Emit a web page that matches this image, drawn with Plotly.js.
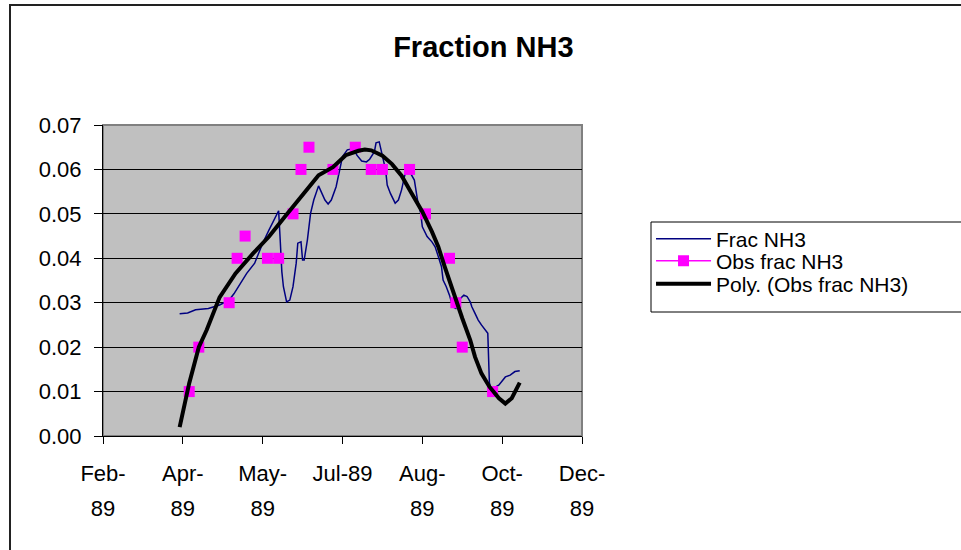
<!DOCTYPE html>
<html>
<head>
<meta charset="utf-8">
<script src="https://cdn.plot.ly/plotly-3.0.1.min.js"></script>
<style>
  html, body { margin: 0; padding: 0; background: #fff; overflow: hidden; }
  #chart { width: 961px; height: 550px; position: absolute; left: 0; top: 0; }
  #frame { position: absolute; left: 9px; top: 4px; width: 1000px; height: 600px;
           border: 2px solid #222; pointer-events: none; box-sizing: border-box; }
</style>
</head>
<body>
<div id="chart"></div>
<div id="frame"></div>
<script>
// ---- data ----
const fracDates = ['1989-03-31','1989-04-05','1989-04-10','1989-04-18','1989-04-25','1989-05-01','1989-05-04','1989-05-08','1989-05-12','1989-05-17','1989-05-22','1989-05-26','1989-05-29','1989-06-01','1989-06-02','1989-06-03','1989-06-04','1989-06-06','1989-06-08','1989-06-10','1989-06-12','1989-06-13','1989-06-15','1989-06-16','1989-06-17','1989-06-19','1989-06-21','1989-06-23','1989-06-26','1989-06-28','1989-06-30','1989-07-02','1989-07-04','1989-07-07','1989-07-09','1989-07-11','1989-07-14','1989-07-18','1989-07-20','1989-07-23','1989-07-26','1989-07-28','1989-07-31','1989-08-01','1989-08-03','1989-08-04','1989-08-06','1989-08-07','1989-08-08','1989-08-10','1989-08-13','1989-08-15','1989-08-17','1989-08-19','1989-08-21','1989-08-25','1989-08-27','1989-08-29','1989-08-30','1989-09-02','1989-09-05','1989-09-07','1989-09-09','1989-09-11','1989-09-12','1989-09-14','1989-09-16','1989-09-18','1989-09-20','1989-09-23','1989-09-25','1989-09-27','1989-09-29','1989-09-30','1989-10-02','1989-10-04','1989-10-06','1989-10-08','1989-10-10','1989-10-11','1989-10-12','1989-10-17','1989-10-21','1989-10-24','1989-10-27','1989-10-30'];
const fracValues = [0.0275,0.0277,0.0284,0.0287,0.0295,0.0306,0.0320,0.0344,0.0366,0.0389,0.0434,0.0464,0.0486,0.0507,0.0440,0.0370,0.0336,0.0302,0.0306,0.0336,0.0389,0.0434,0.0437,0.0396,0.0396,0.0441,0.0501,0.0531,0.0563,0.0546,0.0531,0.0522,0.0531,0.0561,0.0599,0.0629,0.0644,0.0647,0.0632,0.0619,0.0617,0.0623,0.0640,0.0660,0.0662,0.0647,0.0621,0.0599,0.0565,0.0546,0.0524,0.0531,0.0554,0.0587,0.0602,0.0576,0.0531,0.0501,0.0471,0.0449,0.0437,0.0426,0.0404,0.0381,0.0351,0.0336,0.0317,0.0291,0.0287,0.0310,0.0317,0.0314,0.0302,0.0291,0.0276,0.0261,0.0250,0.0239,0.0231,0.0120,0.0104,0.0115,0.0133,0.0137,0.0145,0.0147];

const obsDates = ['1989-04-06','1989-04-12','1989-05-01','1989-05-06','1989-05-11','1989-05-25','1989-06-01','1989-06-10','1989-06-15','1989-06-20','1989-07-05','1989-07-19','1989-07-29','1989-08-05','1989-08-22','1989-09-01','1989-09-16','1989-09-20','1989-09-24','1989-10-13'];
const obsValues = [0.010,0.020,0.030,0.040,0.045,0.040,0.040,0.050,0.060,0.065,0.060,0.065,0.060,0.060,0.060,0.050,0.040,0.030,0.020,0.010];

const polyDates = ['1989-03-31','1989-04-06','1989-04-12','1989-04-17','1989-04-25','1989-05-05','1989-05-16','1989-05-26','1989-06-05','1989-06-16','1989-06-26','1989-07-05','1989-07-13','1989-07-21','1989-07-25','1989-07-29','1989-08-05','1989-08-11','1989-08-17','1989-08-23','1989-08-30','1989-09-05','1989-09-09','1989-09-13','1989-09-19','1989-09-24','1989-09-29','1989-10-02','1989-10-06','1989-10-11','1989-10-17','1989-10-21','1989-10-25','1989-10-29','1989-10-30'];
const polyValues = [0.0020,0.0119,0.0200,0.0239,0.0312,0.0366,0.0411,0.0449,0.0494,0.0542,0.0587,0.0605,0.0632,0.0642,0.0645,0.0643,0.0631,0.0612,0.0586,0.0548,0.0505,0.0460,0.0426,0.0381,0.0314,0.0265,0.0216,0.0178,0.0141,0.0111,0.0085,0.0073,0.0085,0.0115,0.0120];

const tickDates = ['1989-02-11','1989-04-02','1989-05-22','1989-07-11','1989-08-30','1989-10-19','1989-12-08'];
const tickMonthText = ['Feb-','Apr-','May-','Jul-89','Aug-','Oct-','Dec-'];
const tickYearText = ['89','89','89','','89','89','89'];

// observed points as separate (unconnected) points of a line series
const obsX = [], obsY = [];
obsDates.forEach((d, i) => { obsX.push(d); obsY.push(obsValues[i]); if (i < obsDates.length - 1) { obsX.push(d); obsY.push(null); } });

const FONT = 'Liberation Sans, Arial, sans-serif';
const X_RANGE = ['1989-02-11', '1989-12-08'];

const traces = [
  { type: 'scatter', mode: 'lines', name: 'Frac NH3', x: fracDates, y: fracValues,
    line: { color: '#000080', width: 1.5 }, legend: 'legend' },
  { type: 'scatter', mode: 'lines+markers', name: 'Obs frac NH3', x: obsX, y: obsY,
    connectgaps: false, line: { color: '#FF00FF', width: 1.5 },
    marker: { symbol: 'square', size: 11, color: '#FF00FF' }, legend: 'legend2' },
  { type: 'scatter', mode: 'lines', name: 'Poly. (Obs frac NH3)', x: polyDates, y: polyValues,
    xaxis: 'x2', yaxis: 'y',
    line: { color: '#000000', width: 4 }, legend: 'legend3' }
];

const legendCommon = {
  xanchor: 'left', yanchor: 'middle', bgcolor: 'rgba(0,0,0,0)', borderwidth: 0,
  font: { family: FONT, size: 21, color: '#000' }, itemwidth: 55
};

const layout = {
  width: 961, height: 550,
  margin: { l: 103, r: 379, t: 125, b: 114, autoexpand: false },
  paper_bgcolor: '#ffffff', plot_bgcolor: '#C0C0C0',
  font: { family: FONT, color: '#000', size: 21 },
  showlegend: true,
  title: { text: '<b>Fraction NH3</b>', font: { family: FONT, size: 29, color: '#000' },
           x: 0.503, xref: 'container', xanchor: 'center', y: 0.915, yref: 'container', yanchor: 'middle' },
  xaxis: {
    type: 'date', range: X_RANGE,
    tickmode: 'array', tickvals: tickDates, ticktext: tickMonthText,
    ticks: 'outside', ticklen: 7, tickcolor: '#000', tickwidth: 1,
    showgrid: false, zeroline: false,
    showline: true, linecolor: '#000', linewidth: 1,
    tickfont: { family: FONT, size: 22, color: '#000' },
    ticklabelstandoff: 11
  },
  xaxis2: {
    type: 'date', range: X_RANGE, overlaying: 'x', anchor: 'y', side: 'bottom',
    tickmode: 'array', tickvals: tickDates, ticktext: tickYearText,
    ticks: '', showgrid: false, zeroline: false, showline: false,
    tickfont: { family: FONT, size: 22, color: '#000' },
    ticklabelstandoff: 57
  },
  yaxis: {
    range: [0, 0.07], dtick: 0.01, tick0: 0, tickformat: '.2f',
    ticks: 'outside', ticklen: 8, tickcolor: '#000', tickwidth: 1,
    showgrid: true, gridcolor: '#000', gridwidth: 1,
    zeroline: false, showline: true, linecolor: '#000', linewidth: 1,
    tickfont: { family: FONT, size: 22, color: '#000' },
    ticklabelstandoff: 8
  },
  legend: Object.assign({}, legendCommon, { x: 1.1441, y: (436 - 239) / 311 }),
  legend2: Object.assign({}, legendCommon, { x: 1.1441, y: (436 - 261) / 311 }),
  legend3: Object.assign({}, legendCommon, { x: 1.1441, y: (436 - 284) / 311 }),
  shapes: [
    { type: 'rect', xref: 'paper', yref: 'paper', x0: 0, x1: 1, y0: 0, y1: 1,
      line: { color: '#808080', width: 2 }, layer: 'below' },
    { type: 'rect', xref: 'paper', yref: 'paper', x0: (651 - 103) / 479, x1: 2.0,
      y0: (436 - 312) / 311, y1: (436 - 222) / 311,
      line: { color: '#000', width: 1 }, fillcolor: '#ffffff', layer: 'below' }
  ]
};

Plotly.newPlot('chart', traces, layout, { displayModeBar: false, staticPlot: true });
</script>
</body>
</html>
